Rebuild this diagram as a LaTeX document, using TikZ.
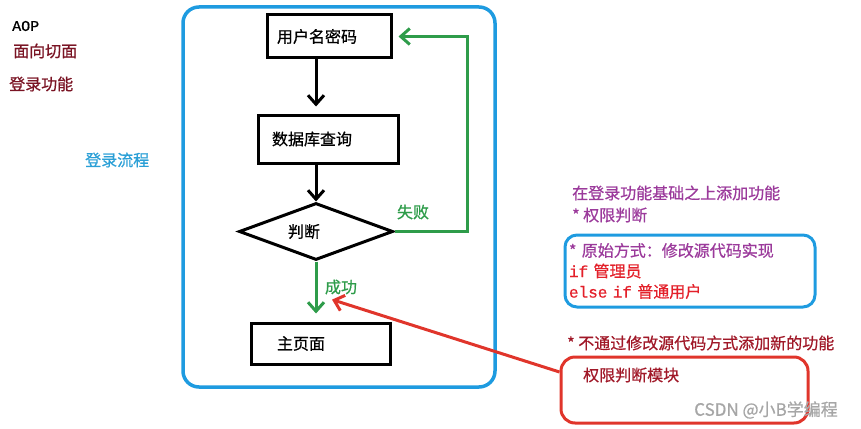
\documentclass[tikz,border=0pt]{standalone}
\usepackage{fontspec}
\setmainfont{Noto Sans CJK SC}[FakeBold=0.7]
\newfontfamily\codefont{Liberation Mono}[FakeBold=0.7]
\usetikzlibrary{shapes.geometric, arrows.meta, positioning}
\definecolor{framblue}{HTML}{1E9BE0}
\definecolor{skyblue}{HTML}{2A9FD6}
\definecolor{maroon}{HTML}{7A1424}
\definecolor{okgreen}{HTML}{2E9C4A}
\definecolor{plum}{HTML}{9B3A9B}
\definecolor{ifred}{HTML}{E3202A}
\definecolor{darkred}{HTML}{A01828}
\definecolor{boxred}{HTML}{E0352B}

\begin{document}
\begin{tikzpicture}[x=1pt, y=-1pt, font=\fontsize{16}{20.5}\selectfont,
    flowbox/.style={draw, line width=3pt, inner sep=0pt, align=left, minimum height=43pt},
    flowline/.style={line width=3pt, -{Straight Barb[length=9pt,width=16pt]}},
    note/.style={inner sep=0pt, anchor=west, align=left}]
  \useasboundingbox (0,0) rectangle (861,428);
  % left side notes
  \node[note] (aop) at (12,26) {\codefont\fontsize{15}{16}\selectfont AOP};
  \node[note, text=maroon] (aspect) at (13,51) {面向切面};
  \node[note, text=maroon] (login) at (9,84) {登录功能};
  \node[note, text=skyblue] (flow) at (85,160) {登录流程};
  % login flow frame
  \draw[framblue, line width=3.5pt, rounded corners=16pt] (183,7) rectangle (495,387);
  % flow chart
  \node[flowbox, minimum width=124pt, text width=104pt] (user) at (329,36.5) {用户名密码};
  \node[flowbox, minimum width=140pt, minimum height=48pt, text width=112pt] (query) at (328,139) {数据库查询};
  \node[draw, diamond, line width=3pt, inner sep=0pt, aspect=2.7, minimum width=154pt, minimum height=57pt,
        text width=56pt, align=left] (judge) at (316,231.5) {判断};
  \node[flowbox, minimum width=139pt, minimum height=41pt, text width=87pt] (home) at (320.5,343.5) {主页面};
  \draw[flowline, shorten >=7pt] (user.south -| judge.north) -- (query.north -| judge.north);
  \draw[flowline] (query.south -| judge.north) -- (judge.north);
  \draw[flowline, okgreen, shorten >=8pt] (judge.south) -- (home.north -| judge.south);
  \draw[flowline, okgreen, shorten >=6pt] (judge.east) -| ([xshift=75pt]user.east) -- (user.east);
  \node[text=okgreen, inner sep=0pt] (fail) at (413,212) {失败};
  \node[text=okgreen, inner sep=0pt] (succ) at (341,287) {成功};
  % right side: adding the permission check
  \node[note, text=plum] (goal) at (572,204) {在登录功能基础之上添加功能\\[1.5pt]* 权限判断};
  \node[draw=framblue, line width=3pt, rounded corners=12pt, minimum width=250pt, minimum height=72pt,
        text width=242pt, inner xsep=4pt, inner ysep=0pt, align=left] (old) at (690,271)
       {\textcolor{plum}{* 原始方式：修改源代码实现}\\
        \textcolor{ifred}{{\codefont if }管理员}\\
        \textcolor{ifred}{{\codefont else if }普通用户}};
  \node[note, text=darkred] (newway) at (567,343) {* 不通过修改源代码方式添加新的功能};
  \node[draw=boxred, line width=3pt, rounded corners=14pt, minimum width=247pt, minimum height=66pt] (perm) at (684.5,390) {};
  \node[note, text=darkred] (permtext) at (583,375) {权限判断模块};
  \draw[flowline, boxred] ([yshift=18pt]perm.west) -- ([xshift=-9pt,yshift=-5pt]succ.south);
  \node[text=gray!70, font=\fontsize{17}{20}\selectfont, inner sep=0pt] (mark) at (766,410) {CSDN @小B学编程};
\end{tikzpicture}
\end{document}
